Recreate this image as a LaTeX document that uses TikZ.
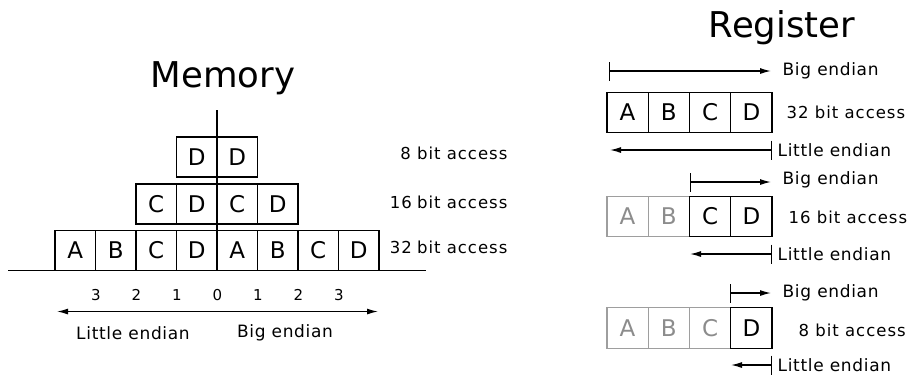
\documentclass[tikz,border=0pt]{standalone}
\usepackage{fontspec}
\setmainfont{DejaVu Sans}
\newfontfamily\spacedfont[LetterSpace=4]{DejaVu Sans}
\newfontfamily\widefont[LetterSpace=6]{DejaVu Sans}
\usetikzlibrary{arrows.meta}
\begin{document}
\begin{tikzpicture}[x=1pt,y=-1pt,
  line width=1.3pt,
  title/.style={font=\fontsize{35.5}{38}\selectfont},
  cell/.style={draw, minimum width=40.5pt, minimum height=40pt, inner sep=0pt,
    font=\fontsize{23}{25}\selectfont},
  rcell/.style={cell, minimum width=41.25pt, minimum height=40.5pt},
  faded/.style={draw=black!38, text=black!45},
  lbl/.style={font=\spacedfont\fontsize{17}{19}\selectfont, inner sep=0pt},
  acc/.style={font=\widefont\fontsize{16.5}{19}\selectfont, inner sep=0pt},
  num/.style={font=\spacedfont\fontsize{15}{17}\selectfont, inner sep=0pt},
  bothtipped/.style={{Latex[length=11pt,width=6pt]}-{Latex[length=11pt,width=6pt]}},
  bartipped/.style={{Bar[width=19pt]}-{Latex[length=11pt,width=6pt]}}
]
\useasboundingbox (0,0) rectangle (917,376);

% ---------------- Memory ----------------
\node[title] (memtitle) at (223,78) {Memory};

% bottom row: 32 bit
\foreach \l [count=\i from 0] in {A,B,C,D,A,B,C,D}
  \node[cell] (m32-\i) at (75.25+\i*40.5,250.5) {\l};
% middle row: 16 bit
\foreach \l [count=\i from 0] in {C,D,C,D}
  \node[cell] (m16-\i) at (156.25+\i*40.5,204) {\l};
% top row: 8 bit
\foreach \l [count=\i from 0] in {D,D}
  \node[cell] (m8-\i) at (196.75+\i*40.5,157) {\l};

% axis lines
\coordinate (axL) at (8,270.5);
\coordinate (axR) at (426,270.5);
\coordinate (vtop) at (217,110);
\coordinate (vbot) at (217,270.5);
\draw (axL) -- (axR);
\draw (vtop) -- (vbot);

% address offsets
\foreach \n [count=\i from 0] in {3,2,1,0,1,2,3}
  \node[num] (off-\i) at (96+\i*40.5,295) {\n};

% direction arrow
\coordinate (dirL) at (57,311.5);
\coordinate (dirR) at (378,311.5);
\draw[bothtipped] (dirL) -- (dirR);
\node[lbl] (mle) at (133,333) {Little endian};
\node[lbl] (mbe) at (285,333) {Big endian};

% access widths
\node[acc, anchor=east] (a8) at (508,153) {8 bit access};
\node[acc, anchor=east] (a16) at (508,202) {16\kern-1pt\ bit access};
\node[acc, anchor=east] (a32) at (508,247) {32\kern-1pt\ bit access};

% ---------------- Register ----------------
\node[title] (regtitle) at (782,28) {Register};

% 32 bit access
\coordinate (b1s) at (609,71);
\coordinate (b1e) at (771,71);
\draw[bartipped] (b1s) -- (b1e);
\node[lbl, anchor=west] (be1) at (782,71) {Big endian};
\foreach \l [count=\i from 0] in {A,B,C,D}
  \node[rcell] (r32-\i) at (627.6+\i*41.25,112.5) {\l};
\node[acc, anchor=west] (ra32) at (786,112) {32 bit access};
\coordinate (l1s) at (772,150);
\coordinate (l1e) at (610,150);
\draw[bartipped] (l1s) -- (l1e);
\node[lbl, anchor=west] (le1) at (777,150) {Little endian};

% 16 bit access
\coordinate (b2s) at (690,182);
\coordinate (b2e) at (771,182);
\draw[bartipped] (b2s) -- (b2e);
\node[lbl, anchor=west] (be2) at (782,180) {Big endian};
\foreach \l [count=\i from 0] in {A,B}
  \node[rcell, faded] (r16-\i) at (627.6+\i*41.25,216.5) {\l};
\foreach \l [count=\i from 2] in {C,D}
  \node[rcell] (r16-\i) at (627.6+\i*41.25,216.5) {\l};
\node[acc, anchor=west] (ra16) at (788,217) {16 bit access};
\coordinate (l2s) at (772,254);
\coordinate (l2e) at (690,254);
\draw[bartipped] (l2s) -- (l2e);
\node[lbl, anchor=west] (le2) at (777,254) {Little endian};

% 8 bit access
\coordinate (b3s) at (730,293);
\coordinate (b3e) at (771,293);
\draw[bartipped] (b3s) -- (b3e);
\node[lbl, anchor=west] (be3) at (782,293) {Big endian};
\foreach \l [count=\i from 0] in {A,B,C}
  \node[rcell, faded] (r8-\i) at (627.6+\i*41.25,328) {\l};
\node[rcell] (r8-3) at (627.6+3*41.25,328) {D};
\node[acc, anchor=west] (ra8) at (798,330) {8 bit access};
\coordinate (l3s) at (772,365);
\coordinate (l3e) at (731,365);
\draw[bartipped] (l3s) -- (l3e);
\node[lbl, anchor=west] (le3) at (777,365) {Little endian};
\end{tikzpicture}
\end{document}
